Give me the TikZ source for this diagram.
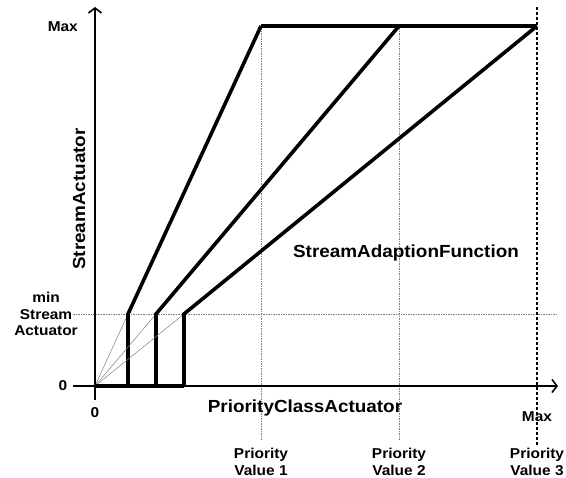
\documentclass[tikz,border=0pt]{standalone}
\usepackage{fontspec}
\setmainfont{Liberation Sans}[FakeStretch=1.08]
\usetikzlibrary{arrows.meta}

\begin{document}
\begin{tikzpicture}[x=1pt,y=-1pt,
  axis/.style={line width=1.8pt,-{Straight Barb[length=5pt,width=13pt,line width=1.6pt]}},
  ramp/.style={line width=3.6pt},
  guide/.style={gray,line width=0.7pt,dash pattern=on 1.5pt off 1pt},
  maxline/.style={line width=1.8pt,dash pattern=on 3pt off 2pt},
  biglbl/.style={font=\bfseries\fontsize{17.5}{20}\selectfont,inner sep=0pt},
  smalllbl/.style={font=\bfseries\fontsize{14.3}{16.5}\selectfont,align=center,inner sep=0pt}]
\useasboundingbox (0,0) rectangle (566,478);
\coordinate (O) at (95,386);
\coordinate (ytop) at (95,7);
\coordinate (ybot) at (95,400);
\coordinate (xleft) at (73,386);
\coordinate (xright) at (558,386);
\coordinate (minl) at (73,314);
\coordinate (minr) at (557,314);
% guides
\draw[guide] (minl) -- (minr);
\draw[guide] (261,26) -- (261,440);
\draw[guide] (399,26) -- (399,440);
\draw[maxline] (537,7) -- (537,445);
% axes
\draw[axis] (ybot) -- (ytop);
\draw[axis] (xleft) -- (xright);
% ramps
\foreach \i/\x/\t in {1/128/261,2/156/399,3/184/537}{
  \coordinate (lo\i) at (\x,386);
  \coordinate (mid\i) at (\x,314);
  \coordinate (top\i) at (\t,26);
  \draw[gray,line width=0.5pt] (O) -- (mid\i);
  \draw[ramp] (lo\i) -- (mid\i) -- (top\i);
}
\draw[ramp] (O) -- (lo3);
\draw[ramp] (top1) -- (top3);
% labels
\node[smalllbl,anchor=east] (ymax) at (78,27) {Max};
\node[smalllbl] (ymin) at (46,314) {min\\Stream\\Actuator};
\node[smalllbl] (yzero) at (63,386) {0};
\node[smalllbl] (xzero) at (95,413) {0};
\node[smalllbl] (xmax) at (537,417) {Max};
\node[biglbl,rotate=90] (ylbl) at (79,199) {StreamActuator};
\node[biglbl] (xlbl) at (305,408) {PriorityClassActuator};
\node[biglbl] (flbl) at (406,253) {StreamAdaptionFunction};
\foreach \i/\t in {1/261,2/399,3/537}
  \node[smalllbl] (pv\i) at (\t,462) {Priority\\Value \i};
\end{tikzpicture}
\end{document}
